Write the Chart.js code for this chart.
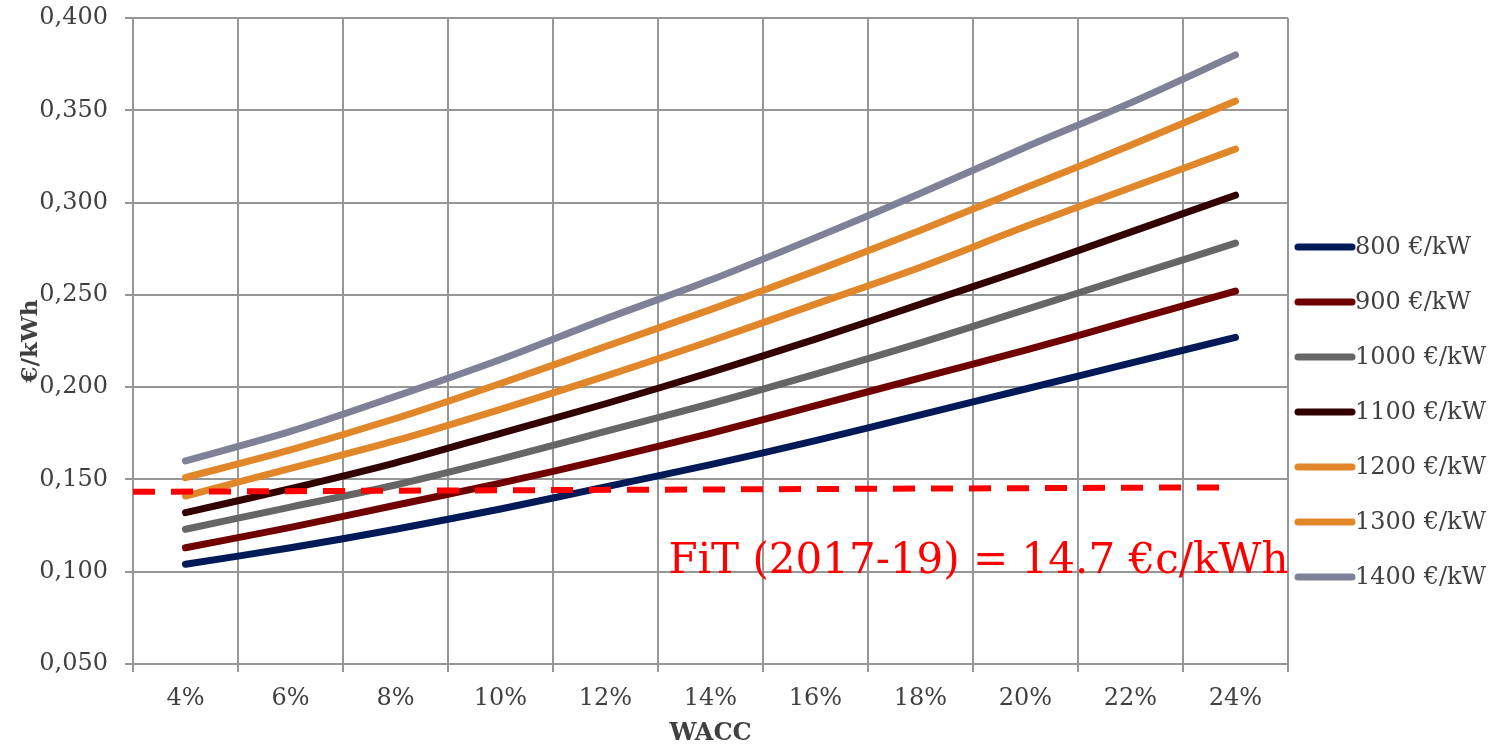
<!DOCTYPE html>
<html>
<head>
<meta charset="utf-8">
<title>LCOE vs WACC</title>
<script src="https://cdn.jsdelivr.net/npm/chart.js@4.4.1/dist/chart.umd.min.js"></script>
<style>
  html, body { margin: 0; padding: 0; background: #fff; }
  #wrap { width: 1491px; height: 748px; position: relative; }
</style>
</head>
<body>
<div id="wrap"><canvas id="lcoeChart"></canvas></div>
<script>
// Data
const waccLabels = ['4%', '6%', '8%', '10%', '12%', '14%', '16%', '18%', '20%', '22%', '24%'];
const capexLabels = ['800 €/kW', '900 €/kW', '1000 €/kW', '1100 €/kW', '1200 €/kW', '1300 €/kW', '1400 €/kW'];

const lcoe800  = [0.104, 0.113, 0.123, 0.134, 0.146, 0.158, 0.171, 0.185, 0.199, 0.213, 0.227];
const lcoe900  = [0.113, 0.124, 0.136, 0.148, 0.161, 0.175, 0.190, 0.205, 0.220, 0.236, 0.252];
const lcoe1000 = [0.123, 0.135, 0.147, 0.161, 0.176, 0.191, 0.207, 0.224, 0.242, 0.260, 0.278];
const lcoe1100 = [0.132, 0.145, 0.159, 0.175, 0.191, 0.208, 0.226, 0.245, 0.264, 0.284, 0.304];
const lcoe1200 = [0.141, 0.156, 0.171, 0.188, 0.206, 0.225, 0.245, 0.265, 0.287, 0.308, 0.329];
const lcoe1300 = [0.151, 0.166, 0.183, 0.202, 0.222, 0.242, 0.263, 0.285, 0.308, 0.331, 0.355];
const lcoe1400 = [0.160, 0.176, 0.195, 0.215, 0.237, 0.258, 0.281, 0.305, 0.330, 0.354, 0.380];

// feed-in tariff reference line (WACC in %, value in €/kWh)
const fitWacc  = [3, 23.75];
const fitValue = [0.1433, 0.1457];
const fitText = 'FiT (2017-19) = 14.7 €c/kWh';

const yTicks = [0.05, 0.40, 0.05]; // min, max, step

const lineColors = ['#001a57', '#700000', '#666666', '#330000', '#e2862a', '#e2862a', '#7f8296'];
const allSeries = [lcoe800, lcoe900, lcoe1000, lcoe1100, lcoe1200, lcoe1300, lcoe1400];

const FONT = '"DejaVu Serif", serif';
const TXT = '#404040';
const GRID = '#969696';

const datasets = allSeries.map((vals, i) => ({
    label: capexLabels[i],
    data: vals,
    borderColor: lineColors[i],
    backgroundColor: lineColors[i],
    borderWidth: 7,
    borderCapStyle: 'round',
    borderJoinStyle: 'round',
    pointRadius: 0,
    tension: 0.3,
    xAxisID: 'x',
    order: 10 - i
}));

datasets.push({
    label: 'FiT',
    data: fitWacc.map((w, i) => ({ x: w, y: fitValue[i] })),
    borderColor: '#ff0000',
    borderWidth: 6,
    borderDash: [22, 16],
    pointRadius: 0,
    xAxisID: 'xFit',
    order: 0,
    noLegend: true
});

// legend to the right of the plot
const sideLegend = {
    id: 'sideLegend',
    afterDraw(chart) {
        const ctx = chart.ctx;
        const area = chart.chartArea;
        ctx.save();
        ctx.font = '24px ' + FONT;
        ctx.textBaseline = 'middle';
        ctx.fillStyle = TXT;
        let row = 0;
        chart.data.datasets.forEach(ds => {
            if (ds.noLegend) return;
            const y = area.top + 229 + row * 55;
            const x0 = area.right + 10;
            ctx.strokeStyle = ds.borderColor;
            ctx.lineWidth = 7;
            ctx.lineCap = 'round';
            ctx.beginPath();
            ctx.moveTo(x0, y);
            ctx.lineTo(x0 + 54, y);
            ctx.stroke();
            ctx.fillText(ds.label, x0 + 57, y + 1);
            row++;
        });
        ctx.restore();
    }
};

// red FiT note
const fitNote = {
    id: 'fitNote',
    afterDatasetsDraw(chart) {
        const ctx = chart.ctx;
        const xs = chart.scales.xFit, ys = chart.scales.y;
        ctx.save();
        ctx.font = '42px ' + FONT;
        ctx.fillStyle = '#ff0000';
        ctx.textBaseline = 'alphabetic';
        ctx.fillText(fitText, xs.getPixelForValue(13.2), ys.getPixelForValue(0.0995));
        ctx.restore();
    }
};

new Chart(document.getElementById('lcoeChart'), {
    type: 'line',
    data: { labels: waccLabels, datasets: datasets },
    options: {
        responsive: true,
        maintainAspectRatio: false,
        animation: false,
        devicePixelRatio: 1,
        layout: { autoPadding: false, padding: { top: 18, right: 203, left: 0, bottom: 0 } },
        plugins: {
            legend: { display: false },
            title: { display: false },
            tooltip: { enabled: false }
        },
        scales: {
            x: {
                type: 'category',
                position: 'bottom',
                offset: true,
                grid: { offset: true, color: GRID, lineWidth: 2, tickLength: 8, tickColor: GRID },
                border: { color: GRID, width: 2 },
                ticks: { color: TXT, font: { family: FONT, size: 24 }, padding: 12, maxRotation: 0, autoSkip: false },
                title: { display: true, text: 'WACC', color: TXT, font: { family: FONT, size: 24, weight: 'bold' }, padding: { top: 0, bottom: 0 } },
                afterFit(s) { s.height = 84; s.paddingLeft = 0; s.paddingRight = 0; }
            },
            xFit: {
                type: 'linear',
                position: 'bottom',
                display: false,
                min: 3,
                max: 25
            },
            y: {
                position: 'left',
                min: yTicks[0],
                max: yTicks[1],
                grid: { color: GRID, lineWidth: 2, tickLength: 8, tickColor: GRID },
                border: { color: GRID, width: 2 },
                ticks: {
                    stepSize: yTicks[2],
                    color: TXT,
                    font: { family: FONT, size: 24 },
                    padding: 17,
                    callback: v => v.toFixed(3).replace('.', ',')
                },
                title: { display: true, text: '€/kWh', color: TXT, font: { family: FONT, size: 23, weight: 'bold' }, padding: { top: 17, bottom: 0 } },
                afterFit(s) { s.width = 133; s.paddingTop = 0; s.paddingBottom = 0; }
            }
        }
    },
    plugins: [sideLegend, fitNote]
});
</script>
</body>
</html>
